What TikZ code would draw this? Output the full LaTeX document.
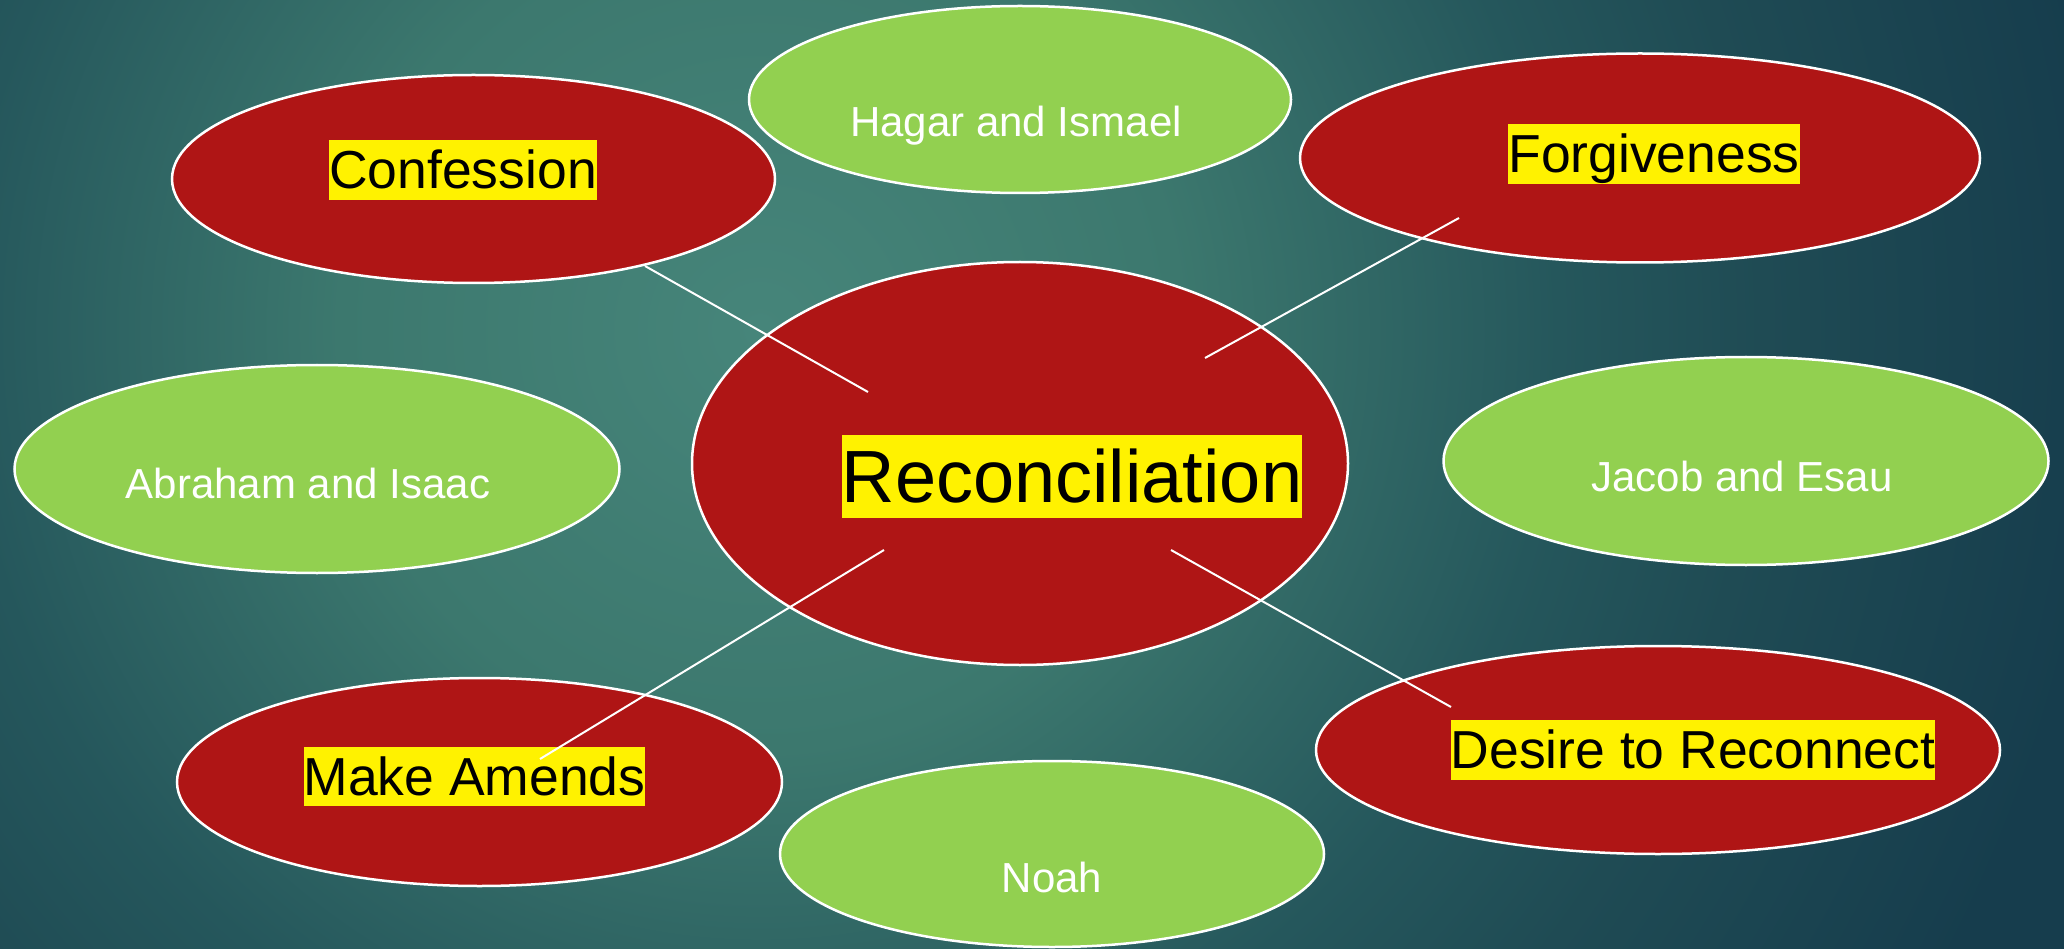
\documentclass[tikz,border=0pt]{standalone}
\usepackage{fontspec}
\setmainfont{Liberation Sans}
\usetikzlibrary{shapes.geometric}
\definecolor{redE}{HTML}{AF1515}
\definecolor{greenE}{HTML}{92D050}
\definecolor{bgA}{HTML}{46857A}
\definecolor{bgM}{HTML}{3C786E}
\definecolor{bgB}{HTML}{25575C}
\definecolor{bgD}{HTML}{1F4B54}
\definecolor{bgC}{HTML}{163D4D}
\pgfdeclareradialshading{bgshade}{\pgfpoint{0bp}{0bp}}{color(0bp)=(bgA); color(7bp)=(bgM); color(13.3bp)=(bgB); color(16.7bp)=(bgD); color(22.5bp)=(bgC); color(50bp)=(bgC)}
\tikzset{
  ell/.style={ellipse, draw=white, line width=2.5pt, inner sep=0pt},
  redell/.style={ell, fill=redE},
  greenell/.style={ell, fill=greenE},
  hl/.style={fill=yellow, text=black, inner sep=0pt, text height=48.5pt, text depth=11.3pt, font=\fontsize{53.5}{60}\selectfont},
  hlbig/.style={fill=yellow, text=black, inner sep=0pt, text height=67pt, text depth=15.7pt, font=\fontsize{74}{82}\selectfont},
  gtxt/.style={text=white, inner sep=0pt, anchor=base, font=\fontsize{42}{48}\selectfont},
  link/.style={draw=white, line width=2pt}
}
\begin{document}
\begin{tikzpicture}[x=1pt,y=-1pt]
\useasboundingbox (0,0) rectangle (2064,949);
\begin{scope}
  \clip (0,0) rectangle (2064,949);
  \shade[shading=bgshade] (760,330) circle (1500);
\end{scope}
% ellipses
\node[redell, minimum width=603pt, minimum height=208pt] (conf) at (473.5,179) {};
\node[greenell, minimum width=542pt, minimum height=187pt] (hagar) at (1020,99.5) {};
\node[redell, minimum width=680pt, minimum height=209pt] (forg) at (1640,158) {};
\node[greenell, minimum width=605pt, minimum height=208pt] (abr) at (317,469) {};
\node[redell, minimum width=656pt, minimum height=403pt] (rec) at (1020,463.5) {};
\node[greenell, minimum width=605pt, minimum height=208pt] (jac) at (1746,461) {};
\node[redell, minimum width=605pt, minimum height=208pt] (amend) at (479.5,782) {};
\node[greenell, minimum width=544pt, minimum height=186pt] (noah) at (1052,854) {};
\node[redell, minimum width=684pt, minimum height=208pt] (des) at (1658,750) {};
% texts
\node[hl] (confT) at (463,170) {Confession};
\node[hl] (forgT) at (1654,154) {Forgiveness};
\node[hlbig] (recT) at (1072,476.5) {Reconciliation};
\node[hl] (amendT) at (474.5,776.5) {Make Amends};
\node[hl] (desT) at (1693,750) {Desire to Reconnect};
\node[gtxt] (hagarT) at (1016,137) {Hagar and Ismael};
\node[gtxt] (abrT) at (308,498) {Abraham and Isaac};
\node[gtxt] (jacT) at (1742,491) {Jacob and Esau};
\node[gtxt] (noahT) at (1052,892) {Noah};
% connectors
\coordinate (c1a) at (645,266);
\coordinate (c1b) at (868,392);
\coordinate (c2a) at (1459,218);
\coordinate (c2b) at (1205,358);
\coordinate (c3a) at (540,759);
\coordinate (c3b) at (884,550);
\coordinate (c4a) at (1451,707);
\coordinate (c4b) at (1171,550);
\draw[link] (c1a) -- (c1b);
\draw[link] (c2a) -- (c2b);
\draw[link] (c3a) -- (c3b);
\draw[link] (c4a) -- (c4b);
\end{tikzpicture}
\end{document}
